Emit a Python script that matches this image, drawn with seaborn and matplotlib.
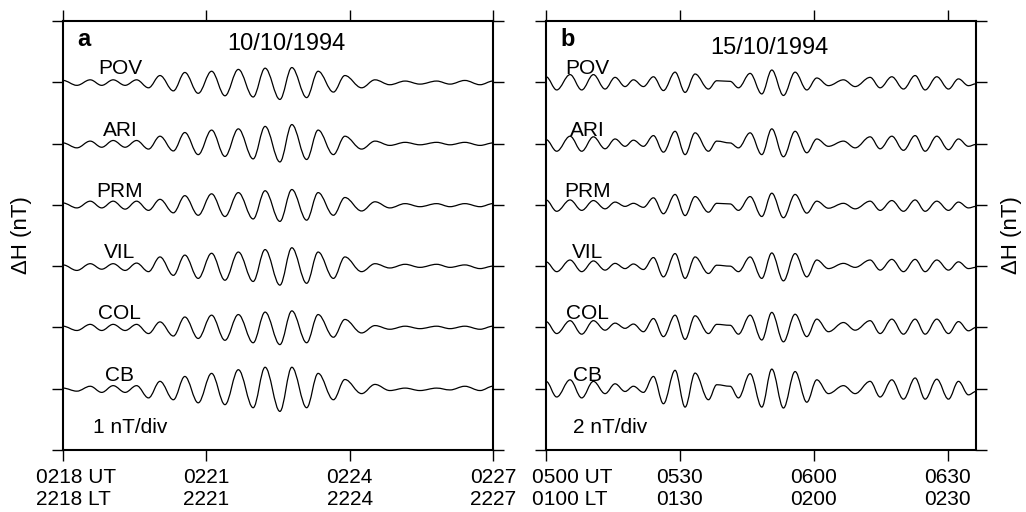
import matplotlib
matplotlib.use('Agg')
import numpy as np
import matplotlib.pyplot as plt
import matplotlib.transforms as mtransforms
from matplotlib.path import Path
from matplotlib.patches import PathPatch
import seaborn as sns

# stations, top to bottom
stations = ['POV', 'ARI', 'PRM', 'VIL', 'COL', 'CB']

# panel a (10/10/1994): minutes after 0218 UT of successive peaks/troughs, values in nT
t_a = [0.0, 0.29, 0.57, 0.81, 1.05, 1.30, 1.54, 1.79, 2.03, 2.31, 2.55, 2.83, 3.11, 3.39,
       3.67, 3.98, 4.23, 4.54, 4.79, 5.10, 5.34, 5.66, 5.90, 6.25, 6.53, 6.84, 7.16, 7.47,
       7.82, 8.10, 8.41, 8.73, 9.0]
pov_a = [0.03, -0.05, 0.04, -0.05, 0.04, -0.05, 0.04, -0.09, 0.11, -0.14, 0.16, -0.18, 0.18,
         -0.22, 0.21, -0.24, 0.23, -0.28, 0.24, -0.25, 0.18, -0.16, 0.11, -0.09, 0.04, -0.04,
         0.02, -0.03, 0.02, -0.03, 0.03, -0.04, 0.02]
ari_a = [0.01, -0.07, 0.04, -0.06, 0.05, -0.06, 0.05, -0.09, 0.12, -0.12, 0.18, -0.18, 0.22,
         -0.21, 0.24, -0.25, 0.28, -0.30, 0.31, -0.26, 0.22, -0.18, 0.12, -0.09, 0.04, -0.03,
         0.02, -0.02, 0.02, -0.02, 0.02, -0.03, 0.01]
prm_a = [0.03, -0.05, 0.06, -0.05, 0.06, -0.07, 0.06, -0.09, 0.09, -0.13, 0.15, -0.17, 0.18,
         -0.19, 0.20, -0.23, 0.23, -0.27, 0.25, -0.25, 0.20, -0.17, 0.12, -0.10, 0.05, -0.05,
         0.02, -0.03, 0.02, -0.03, 0.02, -0.03, 0.02]
vil_a = [0.02, -0.07, 0.04, -0.05, 0.04, -0.07, 0.05, -0.09, 0.15, -0.15, 0.18, -0.20, 0.21,
         -0.23, 0.23, -0.25, 0.27, -0.31, 0.30, -0.28, 0.23, -0.20, 0.15, -0.09, 0.04, -0.03,
         0.03, -0.02, 0.03, -0.02, 0.02, -0.04, 0.0]
col_a = [0.02, -0.05, 0.05, -0.05, 0.05, -0.05, 0.05, -0.10, 0.09, -0.14, 0.17, -0.18, 0.20,
         -0.21, 0.21, -0.25, 0.25, -0.28, 0.27, -0.25, 0.21, -0.16, 0.13, -0.09, 0.03, -0.03,
         0.02, -0.02, 0.02, -0.02, 0.02, -0.03, 0.02]
cb_a = [0.01, -0.04, 0.04, -0.06, 0.05, -0.06, 0.05, -0.15, 0.12, -0.18, 0.20, -0.23, 0.25,
        -0.26, 0.31, -0.31, 0.35, -0.37, 0.35, -0.31, 0.25, -0.18, 0.15, -0.08, 0.07, -0.03,
        0.01, -0.03, 0.01, -0.02, 0.04, -0.03, 0.04]

# panel b (15/10/1994): minutes after 0500 UT, values in nT
t_b = [0.0, 2.39, 5.38, 7.99, 10.61, 13.22, 15.46, 17.70, 19.57, 21.81, 24.05, 26.29, 28.90,
       31.14, 33.38, 36.37, 38.24, 41.22, 43.09, 45.70, 48.32, 50.56, 53.17, 55.78, 58.40,
       60.64, 63.25, 66.61, 69.22, 72.58, 74.82, 77.44, 80.05, 82.66, 84.90, 87.51, 90.13,
       92.37, 94.61, 96.3]
pov_b = [0.18, -0.25, 0.25, -0.25, 0.25, -0.22, 0.16, -0.14, 0.08, -0.14, 0.18, -0.27, 0.33,
         -0.33, 0.27, -0.22, 0.05, 0.03, -0.18, 0.29, -0.38, 0.40, -0.43, 0.33, -0.25, 0.14,
         -0.11, 0.08, -0.14, 0.16, -0.18, 0.18, -0.22, 0.22, -0.25, 0.18, -0.22, 0.11, -0.11,
         -0.05]
ari_b = [0.13, -0.25, 0.24, -0.25, 0.22, -0.17, 0.15, -0.09, 0.11, -0.09, 0.26, -0.28, 0.40,
         -0.36, 0.35, -0.25, 0.08, 0.02, -0.14, 0.35, -0.36, 0.48, -0.43, 0.40, -0.30, 0.15,
         -0.09, 0.08, -0.14, 0.22, -0.17, 0.24, -0.22, 0.26, -0.25, 0.24, -0.20, 0.15, -0.09,
         -0.03]
prm_b = [0.16, -0.21, 0.16, -0.18, 0.14, -0.13, 0.09, -0.05, 0.05, -0.08, 0.23, -0.29, 0.34,
         -0.35, 0.27, -0.24, 0.05, 0.03, -0.18, 0.27, -0.38, 0.38, -0.42, 0.34, -0.27, 0.12,
         -0.11, 0.05, -0.13, 0.12, -0.18, 0.14, -0.21, 0.16, -0.21, 0.12, -0.18, 0.09, -0.10,
         -0.05]
vil_b = [0.14, -0.18, 0.20, -0.18, 0.17, -0.13, 0.09, -0.08, 0.07, -0.11, 0.28, -0.35, 0.41,
         -0.40, 0.30, -0.24, 0.03, 0.0, -0.18, 0.30, -0.40, 0.43, -0.48, 0.41, -0.35, 0.20,
         -0.08, 0.09, -0.04, 0.20, -0.13, 0.22, -0.18, 0.22, -0.18, 0.20, -0.13, 0.14, -0.08,
         -0.04]
col_b = [0.19, -0.20, 0.22, -0.22, 0.22, -0.09, 0.14, -0.03, 0.11, -0.14, 0.29, -0.30, 0.40,
         -0.39, 0.38, -0.20, 0.10, 0.07, -0.22, 0.40, -0.41, 0.49, -0.47, 0.43, -0.30, 0.27,
         -0.14, 0.16, -0.09, 0.22, -0.20, 0.27, -0.22, 0.27, -0.22, 0.27, -0.20, 0.19, -0.11,
         0.0]
cb_b = [0.24, -0.27, 0.29, -0.30, 0.24, -0.16, 0.16, -0.09, 0.08, -0.12, 0.40, -0.49, 0.60,
        -0.60, 0.51, -0.36, 0.13, 0.08, -0.30, 0.49, -0.60, 0.64, -0.63, 0.56, -0.44, 0.29,
        -0.16, 0.10, -0.16, 0.24, -0.27, 0.29, -0.34, 0.35, -0.34, 0.31, -0.34, 0.24, -0.20,
        -0.09]

# axis tick labels
xticks_a = [0, 3, 6, 9]
ut_a = ['0218', '0221', '0224', '0227']
lt_a = ['2218', '2221', '2224', '2227']
xticks_b = [0, 30, 60, 90]
ut_b = ['0500', '0530', '0600', '0630']
lt_b = ['0100', '0130', '0200', '0230']

sns.set_theme(style='ticks')
plt.rcParams['font.family'] = ['Liberation Sans', 'DejaVu Sans']
plt.rcParams['axes.edgecolor'] = 'black'
plt.rcParams['xtick.color'] = 'black'
plt.rcParams['ytick.color'] = 'black'
plt.rcParams['text.color'] = 'black'

K = 1 - 2 / np.pi  # bezier handle so each half wave follows a cosine shape


def wave(t, v, base):
    verts = [(t[0], base + v[0])]
    codes = [Path.MOVETO]
    for i in range(len(t) - 1):
        dt = t[i + 1] - t[i]
        verts += [(t[i] + K * dt, base + v[i]),
                  (t[i + 1] - K * dt, base + v[i + 1]),
                  (t[i + 1], base + v[i + 1])]
        codes += [Path.CURVE4] * 3
    return Path(verts, codes)


fig = plt.figure(figsize=(10.26, 5.12), dpi=100)
ax_a = fig.add_axes([0.0614, 0.1211, 0.4191, 0.8379])
ax_b = fig.add_axes([0.5322, 0.1211, 0.4191, 0.8379])

panels = [
    (ax_a, t_a, [pov_a, ari_a, prm_a, vil_a, col_a, cb_a], 1, 9.0, xticks_a, ut_a, lt_a,
     'a', '10/10/1994', '1 nT/div', 1.19, -19.5, 0.52, 0.932),
    (ax_b, t_b, [pov_b, ari_b, prm_b, vil_b, col_b, cb_b], 2, 96.3, xticks_b, ut_b, lt_b,
     'b', '15/10/1994', '2 nT/div', 9.2, -10.0, 0.519, 0.923),
]

for (ax, t, series, div, xmax, xt, ut, lt, letter, date, scale, lab_x, shift,
     date_x, date_y) in panels:
    n = len(stations)
    for i, (name, v) in enumerate(zip(stations, series)):
        base = (n - i) * div
        ax.add_patch(PathPatch(wave(t, v, base), facecolor='none',
                               edgecolor='black', lw=0.9))
        ax.text(lab_x, base + 0.13 * div, name, ha='center', va='baseline', fontsize=15)

    ax.set_xlim(0, xmax)
    ax.set_ylim(0, (n + 1) * div)
    ax.set_yticks(np.arange(0, n + 2) * div)
    ax.set_yticklabels([])
    labels = [f'{u}\n{l}' for u, l in zip(ut, lt)]
    labels[0] = f'{ut[0]} UT\n{lt[0]} LT'
    ax.set_xticks(xt)
    ax.set_xticklabels(labels, fontsize=15, linespacing=1.2)
    ax.tick_params(direction='out', length=8, width=1, top=True, right=True,
                   labeltop=False, labelright=False, pad=5)
    first = ax.get_xticklabels()[0]
    first.set_horizontalalignment('left')
    first.set_transform(first.get_transform() +
                        mtransforms.ScaledTranslation(shift / 72, 0, fig.dpi_scale_trans))
    for s in ax.spines.values():
        s.set_linewidth(1.5)
        s.set_color('black')
    ax.set_facecolor('white')

    ax.text(0.033, 0.942, letter, transform=ax.transAxes, fontsize=17,
            fontweight='bold', va='baseline')
    ax.text(date_x, date_y, date, transform=ax.transAxes, fontsize=17,
            ha='center', va='baseline')
    ax.text(0.07 if letter == 'a' else 0.063, 0.04, scale, transform=ax.transAxes,
            fontsize=15, va='baseline')

fig.text(0.021, 0.54, 'ΔH (nT)', rotation=90, ha='center', va='center', fontsize=16)
fig.text(0.986, 0.54, 'ΔH (nT)', rotation=90, ha='center', va='center', fontsize=16)

fig.savefig('out.png', dpi=100, facecolor='white')
plt.close(fig)
